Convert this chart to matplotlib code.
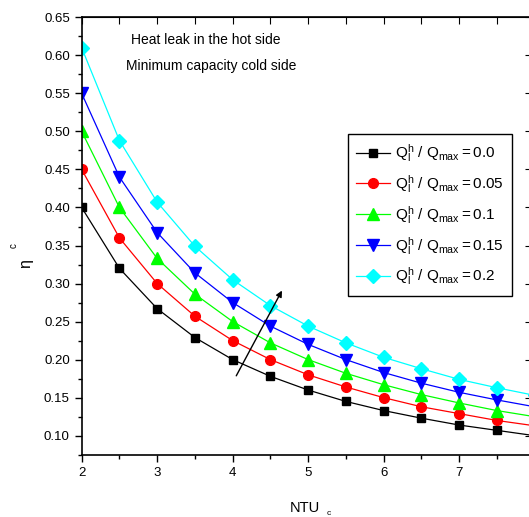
import matplotlib
matplotlib.use("Agg")
import matplotlib.pyplot as plt
from matplotlib.ticker import MultipleLocator

plt.rcParams['font.family'] = ['Liberation Sans', 'DejaVu Sans']
plt.rcParams['mathtext.fontset'] = 'custom'
plt.rcParams['mathtext.rm'] = 'Liberation Sans'
plt.rcParams['mathtext.it'] = 'Liberation Sans:italic'

# data
ntu = [2.0, 2.5, 3.0, 3.5, 4.0, 4.5, 5.0, 5.5, 6.0, 6.5, 7.0, 7.5, 8.0]
eta_00 = [0.400, 0.320, 0.267, 0.229, 0.200, 0.178, 0.160, 0.145, 0.133, 0.123, 0.114, 0.107, 0.100]
eta_005 = [0.450, 0.360, 0.300, 0.257, 0.225, 0.200, 0.180, 0.164, 0.150, 0.138, 0.129, 0.120, 0.113]
eta_01 = [0.500, 0.400, 0.333, 0.286, 0.250, 0.222, 0.200, 0.182, 0.167, 0.154, 0.143, 0.133, 0.125]
eta_015 = [0.550, 0.440, 0.367, 0.314, 0.275, 0.244, 0.220, 0.200, 0.183, 0.169, 0.157, 0.147, 0.138]
eta_02 = [0.610, 0.488, 0.407, 0.349, 0.305, 0.271, 0.244, 0.222, 0.203, 0.188, 0.174, 0.163, 0.153]

ratios = ['0.0', '0.05', '0.1', '0.15', '0.2']
series = [eta_00, eta_005, eta_01, eta_015, eta_02]
colors = ['#000000', '#ff0000', '#00ff00', '#0000ff', '#00ffff']
markers = ['s', 'o', '^', 'v', 'D']
msizes = [6, 7, 8, 8, 7]

x_ticks = [2, 3, 4, 5, 6, 7, 8]
x_labels = ['2', '3', '4', '5', '6', '7', '']   # 8 falls outside the cropped picture

fig = plt.figure(figsize=(5.29, 5.17), dpi=100)
# axes runs a bit past the right edge of the figure, like the cropped original
ax = fig.add_axes([0.1544, 0.1205, 0.8564, 0.846])

for r, ys, c, m, ms in zip(ratios, series, colors, markers, msizes):
    lab = r'$\mathregular{Q^{h}_{l}\ /\ Q_{max}=' + r + '}$'
    ax.plot(ntu, ys, color=c, lw=0.9, marker=m, ms=ms,
            markeredgecolor=c, markerfacecolor=c, label=lab)

ax.set_xlim(2, 8)
ax.set_ylim(0.075, 0.65)
ax.set_xticks(x_ticks)
ax.set_xticklabels(x_labels)
ax.xaxis.set_minor_locator(MultipleLocator(0.5))
ax.yaxis.set_major_locator(MultipleLocator(0.05))
ax.yaxis.set_minor_locator(MultipleLocator(0.025))
ax.yaxis.set_major_formatter(matplotlib.ticker.FormatStrFormatter('%.2f'))
ax.tick_params(which='both', direction='out', labelsize=9.5, width=1, top=False, right=False)
ax.tick_params(which='major', length=5)
ax.tick_params(which='minor', length=3)
for s in ax.spines.values():
    s.set_linewidth(1.2)

# mirrored ticks pointing inward on top and right
sec_x = ax.secondary_xaxis('top')
sec_x.xaxis.set_major_locator(MultipleLocator(0.5))
sec_x.tick_params(direction='in', length=5, labeltop=False)
sec_y = ax.secondary_yaxis('right')
sec_y.yaxis.set_major_locator(MultipleLocator(0.05))
sec_y.tick_params(direction='in', length=7, labelright=False)

fig.text(0.577, 0.017, 'NTU', fontsize=10.5, ha='center', va='center')
fig.text(0.622, 0.006, 'c', fontsize=6, ha='center', va='center')
fig.text(0.048, 0.491, 'η', fontsize=11.5, rotation=90, ha='center', va='center')
fig.text(0.025, 0.525, 'c', fontsize=7, rotation=90, ha='center', va='center')

ax.text(2.65, 0.620, 'Heat leak in the hot side', fontsize=10, ha='left', va='center')
ax.text(2.59, 0.586, 'Minimum capacity cold side', fontsize=10, ha='left', va='center')

ax.annotate('', xy=(4.67, 0.294), xytext=(4.03, 0.1755),
            arrowprops=dict(arrowstyle='-|>', color='black', lw=1.0, mutation_scale=9))

leg = ax.legend(loc='upper left', bbox_to_anchor=(0.658, 0.741), bbox_transform=fig.transFigure,
                borderaxespad=0, fontsize=11, fancybox=False, edgecolor='black',
                handlelength=2.2, labelspacing=0.58, borderpad=0.55, handletextpad=0.3,
                framealpha=1)
leg.get_frame().set_linewidth(1.0)

fig.savefig('out.png', dpi=100)
